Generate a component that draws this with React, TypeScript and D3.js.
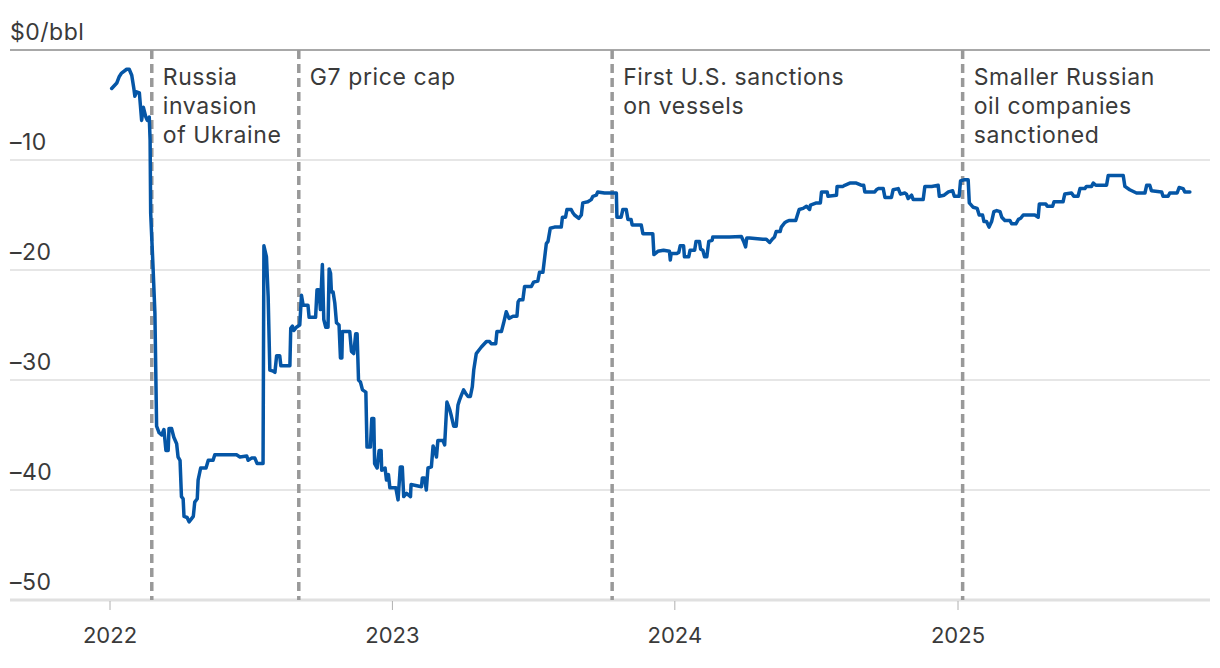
import React from "react";
import * as d3 from "d3";

// Discount of Russian crude vs benchmark, $/bbl (time as decimal years)
const times: number[] = [
  2022.006, 2022.024, 2022.033, 2022.041, 2022.059, 2022.068, 2022.077, 2022.085, 2022.088, 2022.094,
  2022.104, 2022.112, 2022.118, 2022.127, 2022.132, 2022.139, 2022.142, 2022.144, 2022.152, 2022.159,
  2022.165, 2022.174, 2022.183, 2022.191, 2022.198, 2022.206, 2022.209, 2022.218, 2022.226, 2022.236,
  2022.241, 2022.248, 2022.253, 2022.259, 2022.262, 2022.273, 2022.280, 2022.295, 2022.300, 2022.309,
  2022.312, 2022.321, 2022.340, 2022.348, 2022.365, 2022.371, 2022.448, 2022.460, 2022.484, 2022.489,
  2022.501, 2022.513, 2022.521, 2022.542, 2022.545, 2022.554, 2022.560, 2022.566, 2022.578, 2022.584,
  2022.590, 2022.601, 2022.605, 2022.637, 2022.640, 2022.646, 2022.651, 2022.660, 2022.672, 2022.678,
  2022.684, 2022.701, 2022.705, 2022.728, 2022.733, 2022.740, 2022.745, 2022.752, 2022.757, 2022.764,
  2022.772, 2022.776, 2022.781, 2022.784, 2022.790, 2022.796, 2022.802, 2022.811, 2022.816, 2022.821,
  2022.823, 2022.849, 2022.855, 2022.863, 2022.870, 2022.875, 2022.880, 2022.887, 2022.894, 2022.906,
  2022.910, 2022.922, 2022.927, 2022.934, 2022.937, 2022.946, 2022.953, 2022.960, 2022.962, 2022.974,
  2022.979, 2022.986, 2022.991, 2023.012, 2023.020, 2023.028, 2023.035, 2023.040, 2023.050, 2023.064,
  2023.066, 2023.103, 2023.106, 2023.114, 2023.120, 2023.126, 2023.138, 2023.144, 2023.150, 2023.156,
  2023.161, 2023.179, 2023.185, 2023.193, 2023.203, 2023.209, 2023.217, 2023.226, 2023.232, 2023.238,
  2023.244, 2023.252, 2023.259, 2023.268, 2023.276, 2023.283, 2023.288, 2023.297, 2023.306, 2023.315,
  2023.333, 2023.344, 2023.350, 2023.366, 2023.370, 2023.386, 2023.394, 2023.403, 2023.413, 2023.427,
  2023.441, 2023.445, 2023.450, 2023.462, 2023.468, 2023.492, 2023.500, 2023.515, 2023.521, 2023.533,
  2023.539, 2023.545, 2023.551, 2023.559, 2023.574, 2023.598, 2023.602, 2023.613, 2023.618, 2023.633,
  2023.639, 2023.645, 2023.660, 2023.669, 2023.674, 2023.692, 2023.704, 2023.710, 2023.722, 2023.727,
  2023.751, 2023.793, 2023.795, 2023.810, 2023.816, 2023.828, 2023.834, 2023.845, 2023.849, 2023.881,
  2023.887, 2023.922, 2023.926, 2023.940, 2023.960, 2023.981, 2023.984, 2023.987, 2024.007, 2024.014,
  2024.019, 2024.031, 2024.034, 2024.049, 2024.054, 2024.070, 2024.075, 2024.087, 2024.091, 2024.099,
  2024.105, 2024.113, 2024.120, 2024.132, 2024.134, 2024.193, 2024.235, 2024.243, 2024.250, 2024.254,
  2024.264, 2024.311, 2024.323, 2024.335, 2024.344, 2024.352, 2024.358, 2024.372, 2024.376, 2024.388,
  2024.394, 2024.403, 2024.427, 2024.439, 2024.453, 2024.465, 2024.476, 2024.479, 2024.500, 2024.514,
  2024.518, 2024.538, 2024.541, 2024.571, 2024.573, 2024.594, 2024.600, 2024.618, 2024.641, 2024.660,
  2024.667, 2024.671, 2024.706, 2024.712, 2024.718, 2024.736, 2024.742, 2024.765, 2024.771, 2024.789,
  2024.797, 2024.812, 2024.818, 2024.824, 2024.836, 2024.842, 2024.877, 2024.883, 2024.907, 2024.930,
  2024.934, 2024.951, 2024.966, 2024.981, 2024.987, 2024.995, 2025.004, 2025.009, 2025.021, 2025.036,
  2025.040, 2025.054, 2025.068, 2025.075, 2025.087, 2025.092, 2025.101, 2025.110, 2025.119, 2025.127,
  2025.137, 2025.149, 2025.155, 2025.166, 2025.184, 2025.190, 2025.205, 2025.214, 2025.222, 2025.231,
  2025.272, 2025.284, 2025.288, 2025.311, 2025.316, 2025.335, 2025.340, 2025.372, 2025.378, 2025.402,
  2025.410, 2025.425, 2025.432, 2025.449, 2025.455, 2025.473, 2025.479, 2025.488, 2025.526, 2025.532,
  2025.585, 2025.591, 2025.608, 2025.632, 2025.662, 2025.668, 2025.679, 2025.685, 2025.721, 2025.726,
  2025.744, 2025.750, 2025.776, 2025.783, 2025.797, 2025.803, 2025.821,
];

const discount: number[] = [
  -3.5, -3.0, -2.4, -2.1, -1.75, -1.75, -2.3, -3.6, -4.2, -3.8,
  -3.9, -6.4, -5.2, -6.1, -6.4, -6.1, -8.2, -14.8, -19.5, -23.9,
  -34.2, -34.8, -35.0, -34.5, -36.4, -36.4, -34.4, -34.4, -35.2, -35.8,
  -37.0, -37.3, -40.6, -40.8, -42.4, -42.5, -42.9, -42.4, -41.1, -40.8,
  -39.1, -38.0, -38.0, -37.3, -37.3, -36.8, -36.8, -37.0, -36.9, -37.3,
  -37.1, -37.1, -37.6, -37.6, -17.8, -18.8, -22.4, -29.1, -29.2, -29.3,
  -27.8, -27.8, -28.7, -28.7, -25.3, -25.1, -25.5, -25.2, -25.0, -22.3,
  -23.2, -23.2, -24.3, -24.3, -21.8, -21.8, -23.6, -19.5, -24.5, -25.2,
  -25.2, -19.9, -20.3, -22.0, -22.0, -23.0, -24.8, -25.0, -28.0, -28.0,
  -25.6, -25.6, -27.4, -27.6, -25.8, -25.8, -30.0, -30.2, -30.9, -31.1,
  -36.1, -36.1, -33.5, -33.5, -37.6, -38.0, -36.4, -36.4, -38.2, -38.0,
  -39.1, -38.6, -39.8, -39.8, -40.9, -37.9, -37.9, -40.6, -40.3, -40.6,
  -39.5, -39.7, -38.9, -38.9, -40.0, -38.0, -37.9, -36.0, -36.4, -37.0,
  -35.5, -35.5, -35.9, -32.0, -32.7, -33.3, -34.2, -34.2, -32.3, -31.8,
  -31.4, -30.9, -31.2, -31.5, -31.5, -30.6, -29.1, -27.6, -27.3, -27.0,
  -26.5, -26.5, -26.7, -26.7, -25.6, -25.6, -24.8, -23.8, -24.4, -24.2,
  -24.2, -22.9, -22.7, -22.7, -21.5, -21.5, -21.1, -21.0, -20.2, -20.2,
  -18.9, -17.6, -17.4, -16.2, -16.1, -16.1, -15.2, -15.2, -14.5, -14.5,
  -14.8, -15.0, -15.3, -15.0, -13.9, -13.8, -13.6, -13.3, -13.2, -12.9,
  -13.0, -13.0, -15.2, -15.2, -14.5, -14.5, -15.4, -15.4, -15.9, -15.9,
  -16.7, -16.7, -18.6, -18.3, -18.2, -18.3, -19.1, -18.5, -18.5, -18.4,
  -17.8, -17.8, -18.8, -18.8, -18.2, -18.2, -17.4, -17.4, -18.1, -18.2,
  -18.8, -18.8, -17.4, -17.3, -17.0, -17.0, -16.95, -17.4, -17.9, -17.1,
  -17.1, -17.2, -17.2, -17.5, -17.2, -17.0, -16.5, -16.5, -16.1, -15.7,
  -15.6, -15.5, -15.5, -14.5, -14.4, -14.2, -14.5, -14.1, -13.9, -13.9,
  -12.9, -12.9, -13.3, -13.2, -12.4, -12.4, -12.3, -12.1, -12.1, -12.3,
  -12.3, -12.9, -12.9, -12.7, -12.6, -12.6, -13.4, -13.4, -12.7, -12.6,
  -13.1, -13.0, -13.1, -13.5, -13.2, -13.6, -13.6, -12.4, -12.4, -12.3,
  -13.3, -13.2, -12.9, -12.8, -13.3, -13.3, -13.3, -11.9, -11.8, -11.8,
  -13.9, -14.3, -14.4, -15.0, -15.0, -15.6, -15.6, -16.1, -15.6, -14.7,
  -14.6, -14.7, -15.2, -15.5, -15.5, -15.8, -15.8, -15.4, -15.3, -15.0,
  -15.0, -15.2, -14.0, -14.0, -14.2, -14.2, -13.8, -13.8, -13.1, -13.0,
  -13.3, -13.3, -12.6, -12.6, -12.4, -12.4, -12.1, -12.3, -12.3, -11.4,
  -11.4, -12.4, -12.7, -13.0, -13.0, -12.3, -12.3, -12.8, -12.9, -13.3,
  -13.3, -13.0, -13.0, -12.5, -12.6, -12.9, -12.9,
];

const yTicks: number[] = [0, -10, -20, -30, -40, -50];
const yTickLabels: string[] = ["$0/bbl", "–10", "–20", "–30", "–40", "–50"];
const xTickYears: number[] = [2022, 2023, 2024, 2025];

const eventDates: string[] = ["2022-02-24", "2022-09-02", "2023-10-12", "2025-01-07"];
const eventLabels: string[][] = [
  ["Russia", "invasion", "of Ukraine"],
  ["G7 price cap"],
  ["First U.S. sanctions", "on vessels"],
  ["Smaller Russian", "oil companies", "sanctioned"],
];

function decYearToDate(t: number): Date {
  const y = Math.floor(t);
  const a = Date.UTC(y, 0, 1);
  const b = Date.UTC(y + 1, 0, 1);
  return new Date(a + (t - y) * (b - a));
}

const W = 1220;
const H = 668;
const FONT = "Inter, 'Noto Sans', sans-serif";
const TEXT = "#3a3a3a";

export default function App() {
  const x = d3
    .scaleUtc()
    .domain([new Date(Date.UTC(2022, 0, 1)), new Date(Date.UTC(2025, 0, 1))])
    .range([110, 958]);
  const y = d3.scaleLinear().domain([-50, 0]).range([600, 50]);
  const left = 10;
  const right = 1210;

  const data = times.map((t, i) => ({ date: decYearToDate(t), v: discount[i] }));
  const line = d3
    .line<{ date: Date; v: number }>()
    .x((d) => x(d.date))
    .y((d) => y(d.v));

  return (
    <svg
      width={W}
      height={H}
      style={{ position: "absolute", left: 0, top: 0, background: "#fff", display: "block" }}
      fontFamily={FONT}
    >
      {/* gridlines */}
      {yTicks.map((t, i) => {
        const isTop = t === 0;
        const isBottom = t === -50;
        return (
          <g key={"g" + t}>
            <line
              x1={left}
              x2={right}
              y1={y(t)}
              y2={y(t)}
              stroke={isTop ? "#a8a8a8" : isBottom ? "#e0e0e0" : "#e6e6e6"}
              strokeWidth={isBottom ? 3 : 2}
            />
            <text x={left} y={y(t) - 10} fontSize={23} letterSpacing={0.5} fill={TEXT}>
              {yTickLabels[i]}
            </text>
          </g>
        );
      })}

      {/* x ticks */}
      {xTickYears.map((yr) => {
        const xx = x(new Date(Date.UTC(yr, 0, 1)));
        return (
          <g key={"x" + yr}>
            <line x1={xx} x2={xx} y1={601} y2={610} stroke="#b0b0b0" strokeWidth={1} />
            <text x={xx} y={643} fontSize={22} fill={TEXT} textAnchor="middle">
              {yr}
            </text>
          </g>
        );
      })}

      {/* event lines */}
      {eventDates.map((ds, i) => {
        const xx = x(new Date(ds + "T00:00:00Z"));
        return (
          <g key={"e" + ds}>
            <line
              x1={xx}
              x2={xx}
              y1={y(0)}
              y2={y(-50)}
              stroke="#999999"
              strokeWidth={3.5}
              strokeDasharray="9 5"
            />
            {eventLabels[i].map((ln, j) => (
              <text
                key={j}
                x={xx + 11}
                y={85 + j * 29}
                fontSize={23}
                letterSpacing={0.6}
                fill={TEXT}
              >
                {ln}
              </text>
            ))}
          </g>
        );
      })}

      {/* series */}
      <path
        d={line(data) || ""}
        fill="none"
        stroke="#0556a6"
        strokeWidth={3.5}
        strokeLinejoin="round"
        strokeLinecap="round"
      />
    </svg>
  );
}
